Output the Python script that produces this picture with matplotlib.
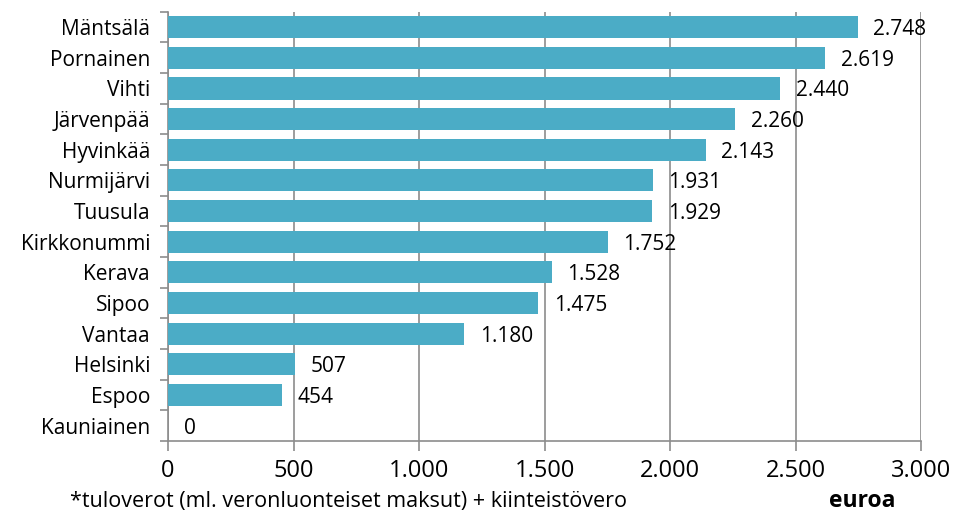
import matplotlib.pyplot as plt
from matplotlib.ticker import FixedLocator, FuncFormatter

plt.rcParams['font.family'] = ['Open Sans', 'DejaVu Sans']

kunnat = ["Mäntsälä", "Pornainen", "Vihti", "Järvenpää", "Hyvinkää", "Nurmijärvi",
          "Tuusula", "Kirkkonummi", "Kerava", "Sipoo", "Vantaa", "Helsinki",
          "Espoo", "Kauniainen"]
arvot = [2748, 2619, 2440, 2260, 2143, 1931, 1929, 1752, 1528, 1475, 1180, 507, 454, 0]
x_ticks = [0, 500, 1000, 1500, 2000, 2500, 3000]


def fi_num(v):
    return f"{int(v):,}".replace(",", ".")


fig = plt.figure(figsize=(9.55, 5.15), dpi=100)
ax = fig.add_axes([0.176, 0.1437, 0.7884, 0.8333])

pos = list(range(len(kunnat)))
ax.barh(pos, arvot, height=0.72, color="#4BACC6", zorder=3)
ax.set_ylim(len(kunnat) - 0.5, -0.5)
ax.set_xlim(0, 3000)

ax.set_yticks(pos)
ax.set_yticklabels(kunnat, fontsize=15)
ax.yaxis.set_minor_locator(FixedLocator([p - 0.5 for p in range(len(kunnat) + 1)]))
ax.tick_params(axis="y", which="major", length=0, pad=13)
ax.tick_params(axis="y", which="minor", length=6, color="#8c8c8c", width=1.2)

ax.set_xticks(x_ticks)
ax.xaxis.set_major_formatter(FuncFormatter(lambda v, p: fi_num(v)))
ax.tick_params(axis="x", length=7, color="#8c8c8c", width=1.2, labelsize=17, pad=6)

ax.grid(axis="x", color="#8c8c8c", linewidth=1.2, zorder=0)
for s in ["top", "right"]:
    ax.spines[s].set_visible(False)
for s in ["left", "bottom"]:
    ax.spines[s].set_color("#8c8c8c")
    ax.spines[s].set_linewidth(1.2)

for p, v in zip(pos, arvot):
    ax.text(v + 62, p + 0.08, fi_num(v), va="center", ha="left", fontsize=15)

fig.text(0.073, 0.027, "*tuloverot (ml. veronluonteiset maksut) + kiinteistövero",
         fontsize=15.5, ha="left", va="center")
fig.text(0.903, 0.027, "euroa", fontsize=16.5, fontweight="bold", ha="center", va="center")

fig.savefig("out.png", dpi=100)
